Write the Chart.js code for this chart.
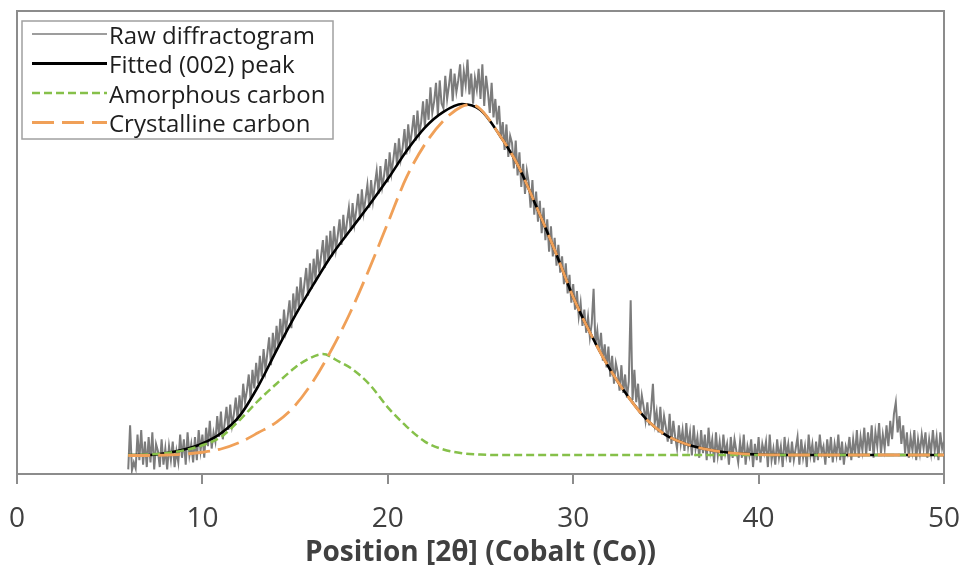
<!DOCTYPE html>
<html><head><meta charset="utf-8">
<script src="https://cdn.jsdelivr.net/npm/chart.js@4.4.0/dist/chart.umd.min.js"></script>
<style>html,body{margin:0;padding:0;background:#fff;}#wrap{position:relative;width:964px;height:567px;}</style>
</head><body><div id="wrap"><canvas id="c" width="964" height="567"></canvas></div>
<script>
// ---- data ----
const seriesNames = ["Raw diffractogram", "Fitted (002) peak", "Amorphous carbon", "Crystalline carbon"];
const xTicks = [0, 10, 20, 30, 40, 50];
const axisTitle = "Position [2θ] (Cobalt (Co))";

// raw scan: 6.0 .. 50.0 in steps of 0.1 (one row per degree)
const rawStart = 6.0, rawStep = 0.1;
const rawY = [
 1.0, 10.5, 0.8, 2.5, 1.2, 8.5, 3.0, 9.5, 2.0, 7.0,
 1.5, 8.0, 2.5, 9.0, 1.0, 6.5, 5.0, 1.5, 7.5, 2.0,
 5.5, 1.0, 6.0, 3.0, 7.0, 1.5, 5.0, 2.5, 8.5, 3.5,
 7.5, 2.0, 9.0, 4.0, 6.5, 2.5, 8.0, 3.0, 9.5, 5.0,
 8.5, 3.5, 10.0, 6.0, 11.5, 5.5, 9.0, 7.0, 12.5, 8.0,
 13.5, 7.5, 11.0, 14.5, 9.5, 15.0, 10.5, 13.0, 16.5, 11.5,
 17.0, 13.0, 19.5, 15.5, 18.0, 21.5, 16.0, 22.5, 18.5, 24.0,
 19.5, 25.5, 21.0, 27.0, 22.5, 26.0, 29.5, 23.5, 30.5, 26.0,
 32.0, 27.5, 33.5, 29.0, 35.5, 31.0, 34.0, 37.5, 31.5, 39.0,
 34.5, 40.5, 36.0, 42.5, 37.5, 41.0, 44.5, 38.5, 45.5, 40.0,
 46.5, 42.0, 48.5, 43.5, 47.0, 50.5, 44.5, 51.5, 46.0, 52.5,
 47.0, 53.5, 48.5, 51.5, 55.0, 49.5, 56.0, 51.0, 54.5, 57.5,
 52.5, 58.5, 54.0, 57.0, 60.5, 55.0, 61.5, 56.5, 59.5, 62.5,
 57.5, 63.5, 59.0, 62.5, 65.5, 60.5, 66.5, 62.0, 64.5, 68.0,
 63.0, 69.5, 65.0, 68.0, 71.5, 66.5, 72.5, 68.0, 70.5, 74.5,
 69.0, 75.5, 71.0, 74.0, 77.5, 72.0, 78.5, 73.5, 76.0, 80.5,
 75.0, 81.0, 76.5, 83.5, 78.0, 80.5, 84.5, 77.5, 85.0, 80.0,
 79.0, 86.0, 81.0, 84.0, 87.5, 80.5, 86.5, 82.5, 85.0, 88.5,
 81.5, 87.0, 84.0, 89.5, 82.0, 86.5, 80.0, 85.5, 83.0, 87.5,
 81.0, 88.5, 79.5, 86.0, 82.5, 78.0, 84.5, 77.0, 81.0, 75.5,
 79.5, 72.5, 76.0, 70.0, 75.5, 68.5, 73.0, 71.5, 66.0, 72.0,
 64.5, 69.5, 62.0, 67.0, 60.5, 65.5, 63.0, 57.5, 63.5, 56.0,
 61.0, 54.5, 59.0, 52.0, 57.5, 50.5, 55.0, 48.0, 53.5, 47.0,
 51.0, 45.0, 49.5, 43.5, 47.0, 41.0, 45.5, 39.0, 43.0, 37.0,
 41.0, 35.5, 39.5, 34.0, 37.0, 32.0, 35.5, 30.5, 34.0, 29.5,
 32.5, 40.0, 28.0, 31.0, 26.5, 30.5, 24.5, 28.0, 23.0, 27.5,
 21.0, 25.5, 19.5, 24.0, 22.0, 18.0, 23.5, 17.5, 21.5, 16.5,
 20.0, 37.5, 16.0, 22.5, 15.5, 19.5, 13.0, 17.0, 14.5, 11.5,
 15.5, 10.5, 14.0, 19.5, 11.0, 13.5, 9.0, 14.5, 8.5, 12.5,
 10.0, 7.0, 13.0, 6.5, 11.5, 8.0, 5.5, 10.5, 6.5, 9.5,
 5.0, 11.0, 6.0, 9.0, 4.0, 10.5, 5.5, 8.0, 3.5, 9.5,
 4.5, 8.5, 3.0, 10.0, 5.0, 7.5, 2.5, 9.0, 4.0, 7.0,
 3.0, 8.5, 4.5, 6.5, 2.0, 8.0, 3.5, 7.5, 5.0, 2.5,
 7.0, 3.5, 8.5, 2.0, 6.0, 4.0, 7.5, 1.5, 6.5, 3.0,
 8.0, 2.5, 6.5, 4.5, 7.0, 1.5, 8.5, 3.0, 5.5, 2.0,
 7.5, 3.5, 6.0, 1.5, 8.0, 4.0, 6.5, 2.5, 7.0, 3.0,
 5.5, 8.0, 2.0, 7.5, 3.5, 6.0, 1.5, 8.5, 4.0, 6.5,
 2.5, 7.0, 3.0, 8.5, 4.5, 6.0, 2.0, 7.5, 3.5, 8.0,
 2.5, 6.5, 4.0, 8.5, 3.0, 7.0, 2.0, 6.0, 4.5, 8.0,
 3.0, 7.5, 4.0, 9.5, 3.5, 8.0, 5.0, 10.0, 4.0, 9.0,
 5.0, 10.5, 3.5, 9.0, 6.0, 11.0, 4.5, 8.5, 5.5, 10.5,
 6.0, 11.5, 7.5, 13.0, 15.5, 9.0, 12.5, 6.5, 10.5, 4.5,
 9.0, 3.5, 8.0, 5.0, 9.5, 3.0, 7.5, 4.5, 8.5, 5.5,
 9.0, 3.5, 7.5, 4.5, 9.5, 5.0, 8.0, 3.0, 9.0, 5.5,
 7.0
];

const fitX = [6, 7, 8, 9, 10, 11, 12, 13, 14, 15, 16, 17, 18, 19, 20, 21, 22, 23, 24, 25, 26, 27, 28, 29, 30, 31, 32, 33, 34, 35, 36, 37, 38, 39, 40, 42, 44, 46, 48, 50];
const fitY = [4.1, 4.1, 4.5, 5.3, 6.6, 8.8, 12.5, 18.9, 26.7, 34.2, 41.0, 47.4, 52.8, 58.1, 63.7, 69.7, 74.8, 78.2, 79.9, 78.6, 73.4, 66.8, 57.9, 48.4, 38.2, 29.8, 22.5, 16.5, 11.6, 8.4, 6.6, 5.5, 4.8, 4.4, 4.2, 4.1, 4.1, 4.1, 4.1, 4.1];

const amorX = [6, 7, 8, 9, 10, 11, 12, 13, 14, 15, 15.6, 16.5, 17.4, 18, 19, 20, 21, 22, 23, 24, 25, 26, 30, 35, 40, 45, 50];
const amorY = [4.1, 4.2, 4.5, 5.1, 6.2, 8.0, 11.6, 15.8, 19.5, 23.0, 24.6, 25.9, 24.2, 22.9, 19.4, 14.4, 10.3, 7.0, 5.3, 4.5, 4.2, 4.1, 4.1, 4.1, 4.1, 4.1, 4.1];

const crysX = [6, 7, 8, 9, 10, 11, 12, 13, 14, 15, 16, 17, 18, 19, 20, 21, 22, 23, 24, 24.5, 25, 26, 27, 28, 29, 30, 31, 32, 33, 34, 35, 36, 37, 38, 39, 40, 42, 44, 46, 48, 50];
const crysY = [4.0, 4.0, 4.1, 4.3, 4.7, 5.4, 6.8, 8.9, 11.2, 14.8, 20.2, 27.1, 35.1, 44.3, 54.2, 64.0, 71.2, 76.3, 79.4, 79.8, 78.8, 73.4, 66.8, 57.9, 48.4, 38.2, 29.8, 22.5, 16.5, 11.6, 8.4, 6.6, 5.5, 4.8, 4.4, 4.2, 4.1, 4.1, 4.1, 4.1, 4.1];

// ---- build ----
const pts = (xs, ys) => xs.map((x, i) => ({ x: x, y: ys[i] }));
const rawPts = rawY.map((y, i) => ({ x: +(rawStart + i * rawStep).toFixed(2), y: y }));
const FONT = "'Open Sans', 'Noto Sans', sans-serif";

const frame = {
  id: 'frame',
  beforeDatasetsDraw(chart) {
    const a = chart.chartArea, ctx = chart.ctx;
    ctx.save();
    ctx.strokeStyle = '#8c8c8c';
    ctx.lineWidth = 2;
    ctx.beginPath();
    ctx.moveTo(a.left, a.bottom); ctx.lineTo(a.left, a.top); ctx.lineTo(a.right, a.top); ctx.lineTo(a.right, a.bottom);
    ctx.stroke();
    ctx.restore();
  }
};

const legendBox = {
  id: 'legendBox',
  afterDraw(chart) {
    const ctx = chart.ctx;
    const bx = 22, by = 21, bw = 311, bh = 118;
    ctx.save();
    ctx.fillStyle = '#ffffff';
    ctx.fillRect(bx, by, bw, bh);
    ctx.strokeStyle = '#a0a0a0';
    ctx.lineWidth = 1.5;
    ctx.strokeRect(bx, by, bw, bh);
    const rowY = [34, 63.5, 93, 122.5];
    chart.data.datasets.forEach((ds, i) => {
      const y = rowY[i];
      ctx.beginPath();
      ctx.strokeStyle = ds.borderColor;
      ctx.lineWidth = ds.legendWidth;
      ctx.setLineDash(ds.borderDash || []);
      ctx.moveTo(32, y); ctx.lineTo(107, y);
      ctx.stroke();
      ctx.setLineDash([]);
      ctx.fillStyle = '#1e1e1e';
      ctx.font = "24px " + FONT;
      ctx.textBaseline = 'middle';
      ctx.textAlign = 'left';
      ctx.fillText(ds.label, 109, y + 3);
    });
    ctx.restore();
  }
};

new Chart(document.getElementById('c'), {
  type: 'line',
  data: {
    datasets: [
      { label: seriesNames[0], data: rawPts, borderColor: '#7c7c7c', borderWidth: 2, legendWidth: 1.5, pointRadius: 0, tension: 0, order: 4 },
      { label: seriesNames[1], data: pts(fitX, fitY), borderColor: '#000000', borderWidth: 2.6, legendWidth: 3, pointRadius: 0, cubicInterpolationMode: 'monotone', order: 3 },
      { label: seriesNames[2], data: pts(amorX, amorY), borderColor: '#86c04a', borderWidth: 2.5, legendWidth: 2.5, borderDash: [8, 4], pointRadius: 0, cubicInterpolationMode: 'monotone', order: 2 },
      { label: seriesNames[3], data: pts(crysX, crysY), borderColor: '#f0a058', borderWidth: 2.8, legendWidth: 2.8, borderDash: [22, 8], pointRadius: 0, cubicInterpolationMode: 'monotone', order: 1 }
    ]
  },
  options: {
    responsive: false,
    animation: false,
    devicePixelRatio: 1,
    layout: { padding: { left: 17, right: 20, top: 11, bottom: 0 } },
    plugins: { legend: { display: false }, tooltip: { enabled: false } },
    scales: {
      x: {
        type: 'linear', min: 0, max: 50,
        afterBuildTicks: s => { s.ticks = xTicks.map(v => ({ value: v })); },
        afterFit: s => { s.paddingLeft = 0; s.paddingRight = 0; s.height = 93; },
        ticks: { color: '#404040', font: { family: FONT, size: 28, lineHeight: 1 }, padding: 21, maxRotation: 0, autoSkip: false },
        grid: { drawOnChartArea: false, drawTicks: true, tickLength: 10, color: '#8c8c8c', lineWidth: 2 },
        border: { display: true, color: '#8c8c8c', width: 2 },
        title: { display: true, text: axisTitle, color: '#404040', font: { family: FONT, size: 28, weight: 'bold', lineHeight: 1 }, padding: { top: 0, bottom: 0 } }
      },
      y: { display: false, min: 0, max: 100 }
    }
  },
  plugins: [frame, legendBox]
});
</script></body></html>
